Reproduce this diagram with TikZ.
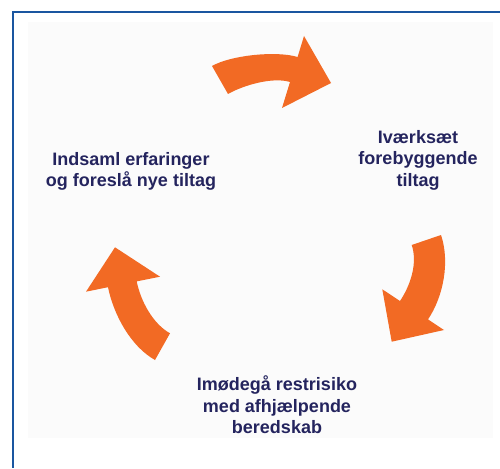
\documentclass[tikz,border=0pt]{standalone}
\usepackage{fontspec}
\setmainfont{Liberation Sans}
\definecolor{frameblue}{RGB}{26,86,160}
\definecolor{arroworange}{RGB}{242,106,36}
\definecolor{textnavy}{RGB}{36,36,94}
\definecolor{panelgray}{RGB}{251,251,251}
\tikzset{
  cyclearrow/.style={fill=arroworange, draw=none},
  steplabel/.style={text=textnavy, font=\bfseries\fontsize{18}{21.6}\selectfont, inner sep=0pt, anchor=base},
}
\begin{document}
\begin{tikzpicture}[x=1pt,y=-1pt]
\useasboundingbox (0,0) rectangle (500,468);
\fill[white] (0,0) rectangle (500,468);
\fill[panelgray] (28,22) rectangle (493,438);
\draw[frameblue, line width=2pt] (500,12.5) -- (12.5,12.5) -- (12.5,468);

% top arrow
\fill[cyclearrow] (212,66) .. controls (231.1,55.1) and (276.6,50.6) .. (297.6,57)
  -- (304,36) -- (331,83) -- (282,108) -- (290,82)
  .. controls (272.8,76.7) and (243.6,85.1) .. (228,94) -- cycle;

% right arrow
\fill[cyclearrow] (441,235) .. controls (450,261.5) and (443.6,296.2) .. (428,319.4)
  -- (444,330) -- (391.7,341.7) -- (382.3,289.3) -- (400,301)
  .. controls (410.6,285.2) and (417.8,263) .. (411.7,245) -- cycle;

% left arrow
\fill[cyclearrow] (155,360) .. controls (130.6,346.3) and (113.6,314.6) .. (108,287.2)
  -- (86,291.7) -- (115,247.3) -- (160,276.7) -- (136.7,281.4)
  .. controls (140.7,301) and (152.6,323.5) .. (170,333.3) -- cycle;

\node[steplabel] (implement) at (418,143) {\begin{tabular}[t]{@{}c@{}}Iværksæt\\forebyggende\\tiltag\end{tabular}};
\node[steplabel] (collect) at (131,165) {\begin{tabular}[t]{@{}c@{}}Indsaml erfaringer\\og foreslå nye tiltag\end{tabular}};
\node[steplabel] (counter) at (277,390.7) {\begin{tabular}[t]{@{}c@{}}Imødegå restrisiko\\med afhjælpende\\beredskab\end{tabular}};
\end{tikzpicture}
\end{document}
